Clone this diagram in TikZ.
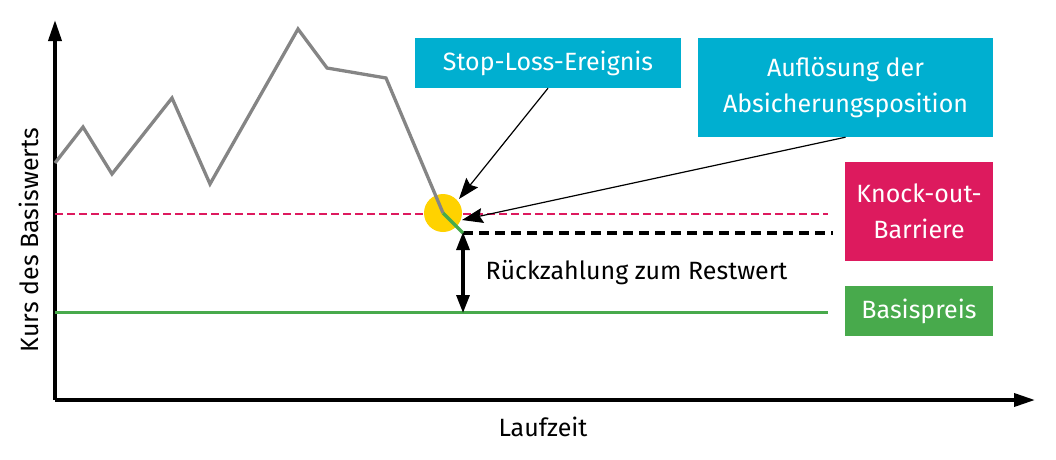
\documentclass[tikz,border=0pt]{standalone}
\usepackage{fontspec}
\setmainfont{Fira Sans}
\usetikzlibrary{arrows.meta}
\definecolor{boxcyan}{HTML}{00AFD0}
\definecolor{boxred}{HTML}{DD1A5E}
\definecolor{boxgreen}{HTML}{48AA4C}
\definecolor{kursgray}{HTML}{858585}
\definecolor{stopyellow}{HTML}{FFD200}
\tikzset{
	infobox/.style={fill=#1,text=white,inner sep=0pt,align=center,font=\fontsize{25}{36}\selectfont},
	callout/.style={-{Stealth[length=21pt,width=15pt,inset=3pt]},line width=1.2pt},
	axis/.style={-{Triangle[length=21pt,width=13pt]},line width=3.6pt}
}
\begin{document}
\begin{tikzpicture}[x=1pt,y=-1pt]
	\useasboundingbox (0,0) rectangle (1056,459);
	\coordinate (O) at (55,400);
	\coordinate (S) at (443,213);
	\coordinate (R) at (463,233);
	\coordinate (K) at (463,312);
	% Achsen
	\draw[axis] (O)--(1035,400) coordinate (xend);
	\draw[axis] (O)--(55,20) coordinate (yend);
	\node (xlab) at (543,427) {\fontsize{25}{30}\selectfont Laufzeit};
	\node[rotate=90] (ylab) at (29,240) {\fontsize{25}{30}\selectfont Kurs des Basiswerts};
	% Linien
	\draw[boxred,line width=2.8pt,dash pattern=on 8pt off 4pt] (55,214)--(828,214);
	\draw[boxgreen,line width=3pt] (55,312)--(828,312);
	\draw[line width=3.2pt,dash pattern=on 10pt off 6pt] (R)--(833,233);
	\fill[stopyellow] (S) circle (19);
	\draw[kursgray,line width=3.3pt,line join=miter] (55,163)--(83,127)--(112,174)--(172,98)--(210,184)--(298,29)--(327,68)--(386,78)--(S);
	\draw[boxgreen,line width=3.3pt] (S)--(R);
	\draw[{Triangle[length=18pt,width=13pt]}-{Triangle[length=18pt,width=13pt]},line width=3.2pt,shorten <=-1pt,shorten >=-1pt] (R)--(K);
	\node[anchor=west] (rest) at (482,273) {\fontsize{25}{30}\selectfont Rückzahlung zum Restwert};
	% Kästen
	\node[infobox=boxcyan,minimum width=266,minimum height=50] (stop) at (548,63) {Stop-Loss-Ereignis};
	\node[infobox=boxcyan,minimum width=295,minimum height=99] (aufl) at (845.5,87.5) {Auflösung der\\Absicherungsposition};
	\node[infobox=boxred,minimum width=148,minimum height=99] (ko) at (919,211.5) {Knock-out-\\Barriere};
	\node[infobox=boxgreen,minimum width=148,minimum height=50] (basis) at (919,311) {Basispreis};
	\coordinate (stoptip) at (459,199);
	\coordinate (auftip) at (462,220);
	\draw[callout] (stop.south)--(stoptip);
	\draw[callout] (aufl.south)--(auftip);
\end{tikzpicture}
\end{document}
